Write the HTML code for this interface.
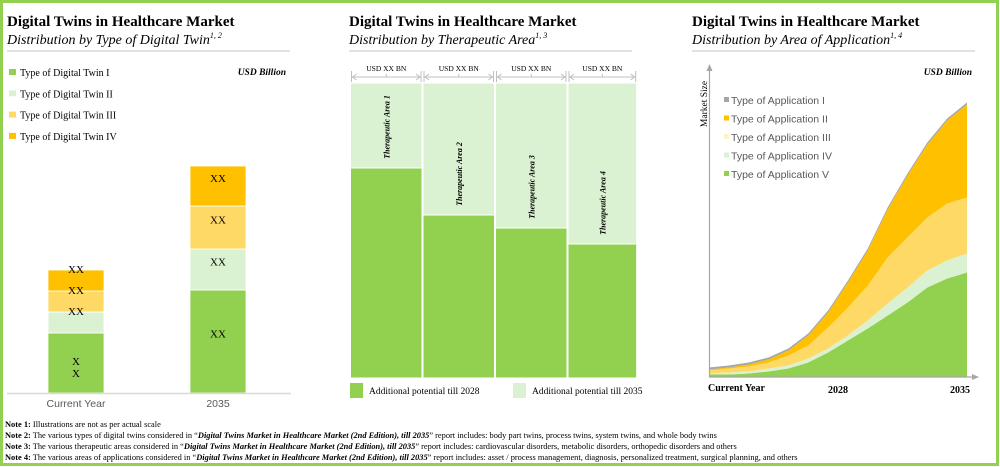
<!DOCTYPE html>
<html><head><meta charset="utf-8"><style>
body{margin:0;background:#fff}
svg{display:block}
.t{font-family:"Liberation Serif",serif}
.s{font-family:"Liberation Sans",sans-serif}
</style></head><body>
<svg id="root" width="1000" height="467" xmlns="http://www.w3.org/2000/svg">
<rect x="1.5" y="1.5" width="996" height="463" fill="#fff" stroke="#92d050" stroke-width="3"/>

<g>
<text x="7" y="26" class="t" font-size="15" font-weight="bold" fill="#000">Digital Twins in Healthcare Market</text>
<text x="7" y="44" class="t" font-size="14" font-style="italic" fill="#000">Distribution by Type of Digital Twin<tspan font-size="8" dy="-6">1, 2</tspan></text>
<line x1="7" y1="51" x2="290" y2="51" stroke="#d9d9d9" stroke-width="1.5"/>
<text x="286" y="75" text-anchor="end" class="t" font-size="9.5" font-weight="bold" font-style="italic">USD Billion</text>
<g id="leg1"></g>
<g id="bars1"></g>
<g id="labels1"></g>
<line x1="7" y1="393.5" x2="291" y2="393.5" stroke="#d9d9d9" stroke-width="1.5"/>
</g>

<g>
<text x="349" y="26" class="t" font-size="15" font-weight="bold">Digital Twins in Healthcare Market</text>
<text x="349" y="44" class="t" font-size="14" font-style="italic">Distribution by Therapeutic Area<tspan font-size="8" dy="-6">1, 3</tspan></text>
<line x1="349" y1="51" x2="632" y2="51" stroke="#d9d9d9" stroke-width="1.5"/>
<g id="bars2"></g>
<rect x="350" y="383" width="13" height="15" fill="#92d050"/>
<text x="369" y="394" class="t" font-size="9.5">Additional potential till 2028</text>
<rect x="513" y="383" width="13" height="15" fill="#dbf2d2"/>
<text x="532" y="394" class="t" font-size="9.5">Additional potential till 2035</text>
</g>

<g>
<text x="692" y="26" class="t" font-size="15" font-weight="bold">Digital Twins in Healthcare Market</text>
<text x="692" y="44" class="t" font-size="14" font-style="italic">Distribution by Area of Application<tspan font-size="8" dy="-6">1, 4</tspan></text>
<line x1="692" y1="51" x2="975" y2="51" stroke="#d9d9d9" stroke-width="1.5"/>
<text x="972" y="75" text-anchor="end" class="t" font-size="9.5" font-weight="bold" font-style="italic">USD Billion</text>
<text transform="translate(707,104) rotate(-90)" text-anchor="middle" class="t" font-size="9.5">Market Size</text>
<g id="areas"></g>
<line x1="709.5" y1="377" x2="709.5" y2="70" stroke="#a6a6a6" stroke-width="1.2"/>
<polygon points="709.5,64 706.5,71 712.5,71" fill="#a6a6a6"/>
<line x1="709" y1="377" x2="973" y2="377" stroke="#a6a6a6" stroke-width="1.2"/>
<polygon points="979,377 972,374 972,380" fill="#a6a6a6"/>
<text x="708" y="391" class="t" font-size="10" font-weight="bold">Current Year</text>
<text x="838" y="393" text-anchor="middle" class="t" font-size="10" font-weight="bold">2028</text>
<text x="960" y="393" text-anchor="middle" class="t" font-size="10" font-weight="bold">2035</text>
<g id="leg3"></g>
</g>

<g class="t" font-size="8.4" fill="#000">
<text x="5" y="427"><tspan font-weight="bold">Note 1:</tspan> Illustrations are not as per actual scale</text>
<text x="5" y="438"><tspan font-weight="bold">Note 2:</tspan> The various types of digital twins considered in “<tspan font-weight="bold" font-style="italic">Digital Twins Market in Healthcare Market (2nd Edition), till 2035</tspan>” report includes: body part twins, process twins, system twins, and whole body twins</text>
<text x="5" y="449"><tspan font-weight="bold">Note 3:</tspan> The various therapeutic areas considered in “<tspan font-weight="bold" font-style="italic">Digital Twins Market in Healthcare Market (2nd Edition), till 2035</tspan>” report includes: cardiovascular disorders, metabolic disorders, orthopedic disorders and others</text>
<text x="5" y="460"><tspan font-weight="bold">Note 4:</tspan> The various areas of applications considered in “<tspan font-weight="bold" font-style="italic">Digital Twins Market in Healthcare Market (2nd Edition), till 2035</tspan>” report includes: asset / process management, diagnosis, personalized treatment, surgical planning, and others</text>
</g>
</svg>
<script>
const NS="http://www.w3.org/2000/svg";
const p1Categories=["Current Year","2035"];
const p1Series=["Type of Digital Twin I","Type of Digital Twin II","Type of Digital Twin III","Type of Digital Twin IV"];
const p1TwinI=[60,103];
const p1TwinII=[21,41];
const p1TwinIII=[21,43];
const p1TwinIV=[21,40];
const p1Labels=[["X\nX","XX","XX","XX"],["XX","XX","XX","XX"]];
const p2Categories=["Therapeutic Area 1","Therapeutic Area 2","Therapeutic Area 3","Therapeutic Area 4"];
const p2Widths=[1,1,1,0.96];
const p2Potential2028=[210,163,150,134];
const p2Potential2035=[85,132,145,161];
const p3Series=["Type of Application I","Type of Application II","Type of Application III","Type of Application IV","Type of Application V"];
const p3AppV=[2,2,3,5,8,14,24,36,48,61,74,89,98,104];
const p3AppIV=[1,2,2,3,3,4,4,5,8,12,15,17,18,19];
const p3AppIII=[3,4,5,6,10,13,21,28,35,46,50,53,57,56];
const p3AppII=[1,1,2,3,5,10,15,25,35,48,62,73,83,93];
const p3AppI=[2,2,2,2,2,2,2,2,2,2,2,2,2,2];

function el(tag,attrs,parent){const e=document.createElementNS(NS,tag);for(const k in attrs)e.setAttribute(k,attrs[k]);parent.appendChild(e);return e;}

const c1=["#92d050","#dbf2d2","#ffd966","#ffc000"];
const leg1=document.getElementById("leg1");
p1Series.forEach((s,i)=>{const y=71+i*21.3;
 const r=el("rect",{x:9,y:y-2,width:7,height:6,fill:c1[i]},leg1);
 
 
 const t=el("text",{x:20,y:y+5,class:"t","font-size":"10"},leg1);t.textContent=s;
 
 
});
const bars1=document.getElementById("bars1");
const labels1=document.getElementById("labels1");
const y1=v=>393-v; const bx=[48,190]; const bw=56;
p1Categories.forEach((c,ci)=>{
 const vals=[p1TwinI[ci],p1TwinII[ci],p1TwinIII[ci],p1TwinIV[ci]];let acc=0;
 vals.forEach((v,si)=>{
  const top=y1(acc+v);const h=v;
  const r=el("rect",{x:bx[ci],y:top,width:bw,height:h,fill:c1[si],stroke:"#fff","stroke-width":"0.8"},bars1);
  
  
  const lab=p1Labels[ci][si];
  const t=el("text",{x:bx[ci]+bw/2,"text-anchor":"middle",class:"t","font-size":"11"},labels1);
  if(lab.includes("\n")){const mid=top+h/2;lab.split("\n").forEach((ln,k)=>{const ts=el("tspan",{x:bx[ci]+bw/2,y:mid+2+k*12},t);ts.textContent=ln;});}
  else{const ly=(ci===0)?top+3:top+h/2-4;t.setAttribute("y",ly);t.textContent=lab;}
  
  
  acc+=v;
 });
 const xl=el("text",{x:bx[ci]+bw/2,y:407,"text-anchor":"middle",class:"s","font-size":"10.5",fill:"#595959"},labels1);
 xl.textContent=c;
 
 
});

const bars2=document.getElementById("bars2");
const base2=378, unit2=71.5;let x2=350.5;
p2Categories.forEach((c,i)=>{
 const w=unit2*p2Widths[i];
 const a=p2Potential2028[i], b=p2Potential2035[i];
 const r1=el("rect",{x:x2,y:base2-a,width:w,height:a,fill:"#92d050",stroke:"#fff","stroke-width":"1"},bars2);
 
 
 const r2=el("rect",{x:x2,y:base2-a-b,width:w,height:b,fill:"#dbf2d2",stroke:"#fff","stroke-width":"1"},bars2);
 
 
 const top=base2-a-b;
 const g=el("g",{stroke:"#bfbfbf","stroke-width":"1",fill:"none"},bars2);
 
 
 el("line",{x1:x2+1,y1:top-6,x2:x2+w-1,y2:top-6},g);
 el("line",{x1:x2+1,y1:top-12,x2:x2+1,y2:top-1},g);
 el("line",{x1:x2+w-1,y1:top-12,x2:x2+w-1,y2:top-1},g);
 el("line",{x1:x2+w/2,y1:top-9,x2:x2+w/2,y2:top-6},g);
 el("polyline",{points:`${x2+6},${top-9} ${x2+2},${top-6} ${x2+6},${top-3}`},g);
 el("polyline",{points:`${x2+w-6},${top-9} ${x2+w-2},${top-6} ${x2+w-6},${top-3}`},g);
 const ut=el("text",{x:x2+w/2,y:top-12,"text-anchor":"middle",class:"t","font-size":"7.5"},bars2);
 ut.textContent="USD XX BN";
 
 
 const cy=base2-a-41;
 const lt=el("text",{transform:`translate(${x2+w/2+3},${cy}) rotate(-90)`,"text-anchor":"middle",class:"t","font-size":"8","font-weight":"bold","font-style":"italic"},bars2);
 lt.textContent=c;
 
 
 x2+=w+1;
});

const areas=document.getElementById("areas");
const n=p3AppV.length, x0=709, x1=967, base3=376.5;
const xs=i=>x0+(x1-x0)*i/(n-1);
const ys=v=>base3-v;
const stackOrder=[p3AppV,p3AppIV,p3AppIII,p3AppII,p3AppI];
const c3=["#92d050","#dbf2d2","#ffd966","#ffc000","#a6a6a6"];
const names3=["application-v","application-iv","application-iii","application-ii","application-i"];
let lower=new Array(n).fill(0);
stackOrder.forEach((s,k)=>{
 const upper=lower.map((v,i)=>v+s[i]);
 let pts=upper.map((v,i)=>`${xs(i)},${ys(v)}`);
 for(let i=n-1;i>=0;i--)pts.push(`${xs(i)},${ys(lower[i])}`);
 const p=el("polygon",{points:pts.join(" "),fill:c3[k]},areas);
 
 
 lower=upper;
});
const leg3=document.getElementById("leg3");
const c3leg=["#a6a6a6","#ffc000","#fff2cc","#dbf2d2","#92d050"];
p3Series.forEach((s,i)=>{const y=100+i*18.5;
 const r=el("rect",{x:724,y:y-3,width:5,height:5,fill:c3leg[i]},leg3);
 
 
 const t=el("text",{x:731,y:y+4,class:"s","font-size":"10.5",fill:"#595959"},leg3);t.textContent=s;
 
 
});
</script>
</body></html>
